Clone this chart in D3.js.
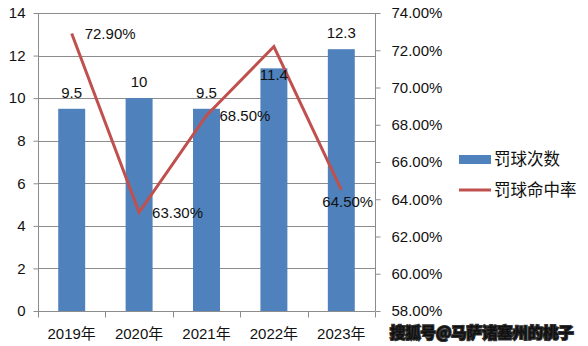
<!DOCTYPE html>
<html>
<head>
<meta charset="utf-8">
<script src="https://cdn.jsdelivr.net/npm/d3@7"></script>
<style>
  html, body { margin: 0; padding: 0; background: #fff; }
  svg { display: block; }
  text { font-family: "Liberation Sans", Arial, "Noto Sans CJK SC", sans-serif; fill: #111; }
  .cjk { font-family: "Noto Sans CJK SC", sans-serif; }
</style>
</head>
<body>
<svg id="chart" width="588" height="346"></svg>
<script>
// Free-throw attempts and free-throw percentage by season
const years = ["2019年", "2020年", "2021年", "2022年", "2023年"];
const attempts = [9.5, 10, 9.5, 11.4, 12.3];
const pct = [72.9, 63.3, 68.5, 72.2, 64.5];
const pctLabels = ["72.90%", "63.30%", "68.50%", null, "64.50%"];
const leftTicks = [0, 2, 4, 6, 8, 10, 12, 14];
const rightTicks = [58, 60, 62, 64, 66, 68, 70, 72, 74];
const seriesNames = ["罚球次数", "罚球命中率"];

const BLUE = "#4F81BD", RED = "#C0504D", GRID = "#8c8c8c";
const plot = { left: 38, right: 375, top: 13, bottom: 311 };

const svg = d3.select("#chart");

const x = d3.scaleBand().domain(years).range([plot.left, plot.right])
  .paddingInner(0.6).paddingOuter(0.3);
const yL = d3.scaleLinear().domain([0, 14]).range([plot.bottom, plot.top]);
const yR = d3.scaleLinear().domain([58, 74]).range([plot.bottom, plot.top]);
const gap = (x.step() - x.bandwidth()) / 2;
const cx = i => x(years[i]) + x.bandwidth() / 2;

// horizontal gridlines
svg.append("g").selectAll("line").data(leftTicks.filter(d => d > 0)).join("line")
  .attr("x1", plot.left).attr("x2", plot.right)
  .attr("y1", d => Math.round(yL(d)) + 0.5).attr("y2", d => Math.round(yL(d)) + 0.5)
  .attr("stroke", GRID).attr("stroke-width", 1);

// left axis
const gL = svg.append("g").attr("transform", `translate(${plot.left + 0.5},0)`)
  .call(d3.axisLeft(yL).tickValues(leftTicks).tickSize(5).tickPadding(8).tickFormat(d3.format("d")));
gL.selectAll("path, line").attr("stroke", GRID);
gL.select(".domain").attr("d", `M0,${plot.top}V${plot.bottom}`);
gL.selectAll("text").style("font-size", "15px").attr("fill", "#111");

// right axis
const gR = svg.append("g").attr("transform", `translate(${plot.right + 0.5},0)`)
  .call(d3.axisRight(yR).tickValues(rightTicks).tickSize(5).tickPadding(11).tickFormat(d => d.toFixed(2) + "%"));
gR.selectAll("path, line").attr("stroke", GRID);
gR.select(".domain").attr("d", `M0,${plot.top}V${plot.bottom}`);
gR.selectAll("text").style("font-size", "15px").attr("fill", "#111");

// bottom axis with ticks between categories
const gB = svg.append("g").attr("transform", `translate(0,${plot.bottom + 0.5})`);
gB.append("line").attr("x1", plot.left).attr("x2", plot.right).attr("stroke", GRID);
const bounds = years.map(d => x(d) - gap).concat([plot.right]);
gB.selectAll("line.tick").data(bounds).join("line").attr("class", "tick")
  .attr("x1", d => Math.round(d) + 0.5).attr("x2", d => Math.round(d) + 0.5)
  .attr("y1", 0).attr("y2", 6).attr("stroke", GRID);
gB.selectAll("text").data(years).join("text")
  .attr("x", d => x(d) + x.bandwidth() / 2).attr("y", 27)
  .attr("text-anchor", "middle").style("font-size", "15px").text(d => d);

// bars
svg.append("g").selectAll("rect").data(attempts).join("rect")
  .attr("x", (d, i) => x(years[i])).attr("width", x.bandwidth())
  .attr("y", d => yL(d)).attr("height", d => yL(0) - yL(d))
  .attr("fill", BLUE);

// line
const line = d3.line().x((d, i) => cx(i)).y(d => yR(d));
svg.append("path").datum(pct).attr("d", line)
  .attr("fill", "none").attr("stroke", RED).attr("stroke-width", 3).attr("stroke-linejoin", "miter");

// bar value labels (the 2022 label sits lower, clear of the line)
const barLabelShift = { 3: 23 };
svg.append("g").selectAll("text").data(attempts).join("text")
  .attr("x", (d, i) => cx(i))
  .attr("y", (d, i) => yL(d) - 11 + (barLabelShift[i] || 0))
  .attr("text-anchor", "middle").style("font-size", "15px")
  .text(d => d3.format("")(d));

// percentage labels to the right of each point (the last one is pulled inside the plot)
const pctShift = { 4: [-32, 12] };
const pctItems = pct.map((v, i) => ({ v, i, label: pctLabels[i] })).filter(d => d.label !== null);
svg.append("g").selectAll("text").data(pctItems).join("text")
  .attr("x", d => cx(d.i) + 13 + (pctShift[d.i] ? pctShift[d.i][0] : 0))
  .attr("y", d => yR(d.v) + 5.5 + (pctShift[d.i] ? pctShift[d.i][1] : 0))
  .style("font-size", "15px")
  .text(d => d.label);

// legend
const lg = svg.append("g");
lg.append("rect").attr("x", 459).attr("y", 155).attr("width", 32).attr("height", 9).attr("fill", BLUE);
lg.append("line").attr("x1", 459).attr("x2", 491).attr("y1", 190).attr("y2", 190)
  .attr("stroke", RED).attr("stroke-width", 3);
lg.selectAll("text").data(seriesNames).join("text").attr("class", "cjk")
  .attr("x", 494).attr("y", (d, i) => 165 + i * 31)
  .style("font-size", "16.5px").text(d => d);

// watermark
svg.append("text").attr("class", "cjk").attr("x", 390).attr("y", 338)
  .style("font-size", "15.3px").style("font-weight", "bold")
  .attr("fill", "#fff").attr("stroke", "#333").attr("stroke-width", 2.2)
  .attr("paint-order", "stroke").text("搜狐号@马萨诸塞州的桃子");
</script>
</body>
</html>
